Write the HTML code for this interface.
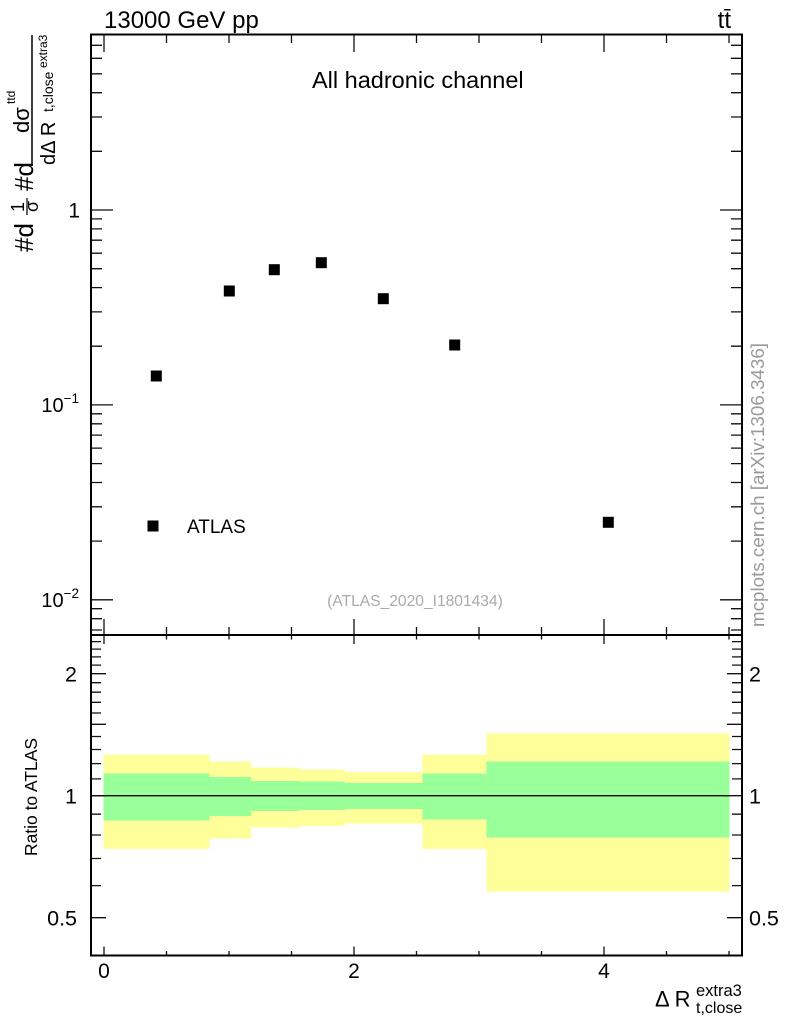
<!DOCTYPE html>
<html><head><meta charset="utf-8"><style>
html,body{margin:0;padding:0;background:#fff;}
svg{display:block;}
text{font-family:"Liberation Sans",Arial,sans-serif;}
</style></head><body>
<svg width="786" height="1024" viewBox="0 0 786 1024" xmlns="http://www.w3.org/2000/svg">
<rect width="786" height="1024" fill="#fff"/>
<!-- ratio bands -->
<g shape-rendering="crispEdges">
<rect x="103.5" y="754.3" width="106.2" height="94.7" fill="#ffff99"/>
<rect x="103.5" y="773.7" width="106.2" height="46.6" fill="#99ff99"/>
<rect x="209.7" y="761.3" width="41.3" height="77" fill="#ffff99"/>
<rect x="209.7" y="777" width="41.3" height="39" fill="#99ff99"/>
<rect x="251" y="767.7" width="48.3" height="60" fill="#ffff99"/>
<rect x="251" y="781" width="48.3" height="30" fill="#99ff99"/>
<rect x="299.3" y="769.3" width="45.7" height="56.7" fill="#ffff99"/>
<rect x="299.3" y="781.7" width="45.7" height="28.3" fill="#99ff99"/>
<rect x="345" y="772" width="77.3" height="51.3" fill="#ffff99"/>
<rect x="345" y="783" width="77.3" height="26" fill="#99ff99"/>
<rect x="422.3" y="754.3" width="64.4" height="94.7" fill="#ffff99"/>
<rect x="422.3" y="773.7" width="64.4" height="46" fill="#99ff99"/>
<rect x="486.7" y="733.3" width="242.6" height="158.4" fill="#ffff99"/>
<rect x="486.7" y="761.3" width="242.6" height="76.4" fill="#99ff99"/>
</g>
<line x1="91" y1="795.7" x2="729.3" y2="795.7" stroke="#000" stroke-width="1.4"/>

<!-- ticks -->
<g stroke="#111" stroke-width="1.3" fill="none">
<path d="M91 151.3h11M91 117h11M91 92.7h11M91 73.8h11M91 58.3h11M91 45.3h11
M91 210h22
M91 218.9h11M91 228.9h11M91 240.2h11M91 253.2h11M91 268.7h11M91 287.6h11M91 311.9h11M91 346.2h11
M91 404.9h22
M91 413.8h11M91 423.8h11M91 435.1h11M91 448.1h11M91 463.6h11M91 482.5h11M91 506.8h11M91 541.1h11
M91 599.8h22
M91 608.7h11M91 618.7h11M91 630h11"/>
<path d="M742 151.3h-11M742 117h-11M742 92.7h-11M742 73.8h-11M742 58.3h-11M742 45.3h-11
M742 210h-22
M742 218.9h-11M742 228.9h-11M742 240.2h-11M742 253.2h-11M742 268.7h-11M742 287.6h-11M742 311.9h-11M742 346.2h-11
M742 404.9h-22
M742 413.8h-11M742 423.8h-11M742 435.1h-11M742 448.1h-11M742 463.6h-11M742 482.5h-11M742 506.8h-11M742 541.1h-11
M742 599.8h-22
M742 608.7h-11M742 618.7h-11M742 630h-11"/>
<path d="M104 34.5v17.5M166.5 34.5v8.5M229 34.5v8.5M291.5 34.5v8.5M354 34.5v17.5M416.5 34.5v8.5M479 34.5v8.5M541.5 34.5v8.5M604 34.5v17.5M666.5 34.5v8.5M729 34.5v8.5"/>
<path d="M104 635v-16M166.5 635v-8M229 635v-8M291.5 635v-8M354 635v-16M416.5 635v-8M479 635v-8M541.5 635v-8M604 635v-16M666.5 635v-8M729 635v-8"/>
<path d="M104 635v9M166.5 635v4.5M229 635v4.5M291.5 635v4.5M354 635v9M416.5 635v4.5M479 635v4.5M541.5 635v4.5M604 635v9M666.5 635v4.5M729 635v4.5"/>
<path d="M104 955.5v-9M166.5 955.5v-4.5M229 955.5v-4.5M291.5 955.5v-4.5M354 955.5v-9M416.5 955.5v-4.5M479 955.5v-4.5M541.5 955.5v-4.5M604 955.5v-9M666.5 955.5v-4.5M729 955.5v-4.5"/>
<path d="M91 641.6h10M91 649.1h10M91 656.9h10M91 665.1h10M91 673.7h15M91 682.7h10M91 692.2h10M91 702.3h10M91 713h10M91 724.3h15M91 736.5h10M91 749.5h10M91 763.6h10M91 778.9h10M91 795.7h15M91 814.2h10M91 835h10M91 858.5h10M91 885.6h10M91 917.7h15"/>
<path d="M742 641.6h-10M742 649.1h-10M742 656.9h-10M742 665.1h-10M742 673.7h-15M742 682.7h-10M742 692.2h-10M742 702.3h-10M742 713h-10M742 724.3h-15M742 736.5h-10M742 749.5h-10M742 763.6h-10M742 778.9h-10M742 795.7h-18M742 814.2h-10M742 835h-10M742 858.5h-10M742 885.6h-10M742 917.7h-15"/>
</g>

<!-- frames -->
<rect x="91" y="34.5" width="651" height="600.5" fill="none" stroke="#000" stroke-width="2"/>
<rect x="91" y="635" width="651" height="320.5" fill="none" stroke="#000" stroke-width="2"/>

<!-- data points -->
<g fill="#000">
<rect x="150.8" y="370.5" width="11" height="11"/>
<rect x="223.8" y="285.5" width="11" height="11"/>
<rect x="268.8" y="264.2" width="11" height="11"/>
<rect x="315.8" y="257.2" width="11" height="11"/>
<rect x="377.8" y="293.2" width="11" height="11"/>
<rect x="449.2" y="339.5" width="11" height="11"/>
<rect x="602.8" y="516.8" width="11" height="11"/>
<rect x="147.5" y="520.5" width="11" height="11"/>
</g>

<!-- texts -->
<text x="104" y="28" font-size="24">13000 GeV pp</text>
<text x="731" y="28" font-size="24" text-anchor="end">tt̄</text>
<text x="312" y="88" font-size="23.5">All hadronic channel</text>
<text x="187" y="533" font-size="19">ATLAS</text>
<text x="415" y="606" font-size="15.6" fill="#aaaaaa" text-anchor="middle">(ATLAS_2020_I1801434)</text>

<text x="80" y="217.5" font-size="21" text-anchor="end">1</text>
<text x="79" y="412" font-size="20" text-anchor="end">10<tspan dy="-9" font-size="13.5">−1</tspan></text>
<text x="79" y="607" font-size="20" text-anchor="end">10<tspan dy="-9" font-size="13.5">−2</tspan></text>

<text x="77" y="681.5" font-size="21.5" text-anchor="end">2</text>
<text x="77" y="803.5" font-size="21.5" text-anchor="end">1</text>
<text x="77" y="925.5" font-size="21.5" text-anchor="end">0.5</text>
<text x="749" y="681.5" font-size="21.5">2</text>
<text x="749" y="803.5" font-size="21.5">1</text>
<text x="749" y="925.5" font-size="21.5">0.5</text>

<text x="104" y="978" font-size="21" text-anchor="middle">0</text>
<text x="354" y="978" font-size="21" text-anchor="middle">2</text>
<text x="604" y="978" font-size="21" text-anchor="middle">4</text>

<text x="655" y="1006.5" font-size="22">Δ R</text>
<text x="696" y="996" font-size="16.5">extra3</text>
<text x="696" y="1013" font-size="16">t,close</text>

<text transform="translate(37,856) rotate(-90)" font-size="17.5" textLength="118" lengthAdjust="spacingAndGlyphs">Ratio to ATLAS</text>

<text transform="translate(764,627) rotate(-90)" font-size="18.7" fill="#999999" textLength="284" lengthAdjust="spacingAndGlyphs">mcplots.cern.ch [arXiv:1306.3436]</text>

<!-- main y label -->
<g transform="translate(0,252) rotate(-90)">
<text x="0" y="33" font-size="26">#d</text>
<text x="40" y="24" font-size="18">1</text>
<line x1="37" y1="27" x2="54" y2="27" stroke="#000" stroke-width="1.2"/>
<text x="40" y="38" font-size="18">σ</text>
<text x="61" y="33" font-size="26">#d</text>
<line x1="87" y1="32" x2="217" y2="32" stroke="#000" stroke-width="1.5"/>
<text x="119" y="29" font-size="22">dσ</text>
<text x="148" y="15" font-size="12">ttd</text>
<text x="87" y="55" font-size="20">dΔ R</text>
<text x="140" y="53" font-size="14">t,close</text>
<text x="184" y="47" font-size="12">extra3</text>
</g>
</svg>
</body></html>
